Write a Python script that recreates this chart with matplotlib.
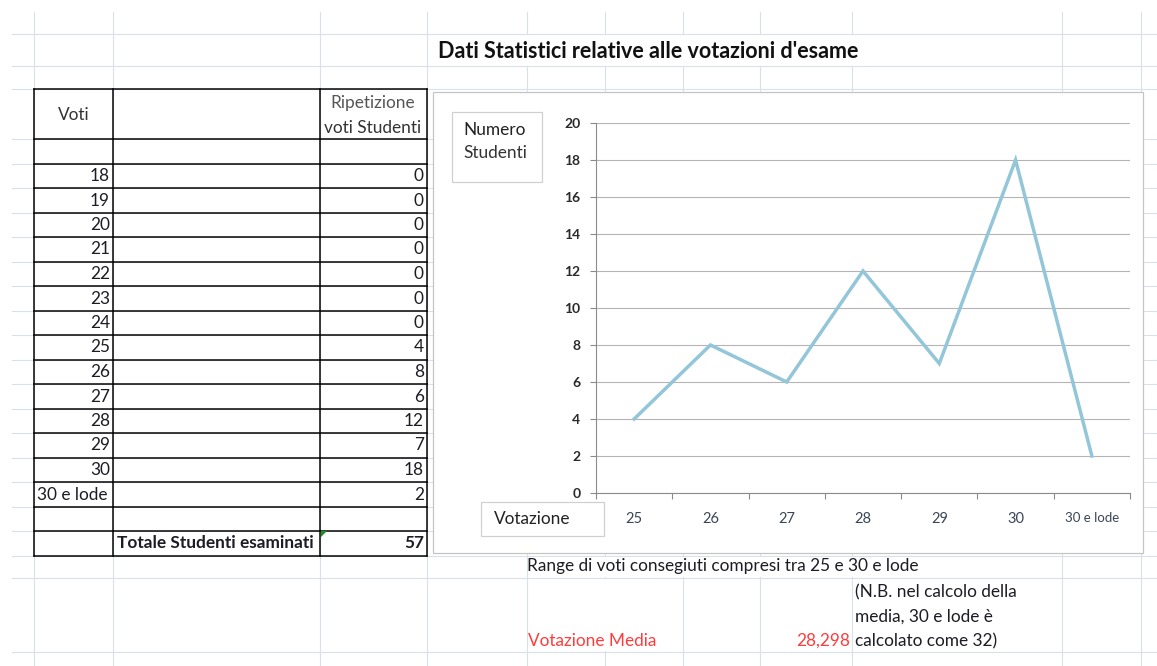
import matplotlib
matplotlib.use('Agg')
import matplotlib.pyplot as plt
from matplotlib.patches import Rectangle, Polygon
import numpy as np

plt.rcParams['font.family'] = ['Lato', 'DejaVu Sans']

# ---------------- data ----------------
voti = ['18', '19', '20', '21', '22', '23', '24', '25', '26', '27', '28', '29', '30', '30 e lode']
conteggi = [0, 0, 0, 0, 0, 0, 0, 4, 8, 6, 12, 7, 18, 2]
valore_numerico = [18, 19, 20, 21, 22, 23, 24, 25, 26, 27, 28, 29, 30, 32]

chart_categorie = ['25', '26', '27', '28', '29', '30', '30 e lode']
chart_valori = [4, 8, 6, 12, 7, 18, 2]
y_ticks = [0, 2, 4, 6, 8, 10, 12, 14, 16, 18, 20]

titolo = "Dati Statistici relative alle votazioni d'esame"
testo_range = "Range di voti consegiuti compresi tra 25 e 30 e lode"
nota = ["(N.B. nel calcolo della", "media, 30 e lode è", "calcolato come 32)"]

totale = sum(conteggi)
media = sum(v * c for v, c in zip(valore_numerico, conteggi)) / totale
media_txt = f"{media:.3f}".replace('.', ',')

# ---------------- figure ----------------
W, H = 1157, 666
fig = plt.figure(figsize=(W / 100, H / 100), dpi=100)
bg = fig.add_axes([0, 0, 1, 1])
bg.set_xlim(0, W)
bg.set_ylim(H, 0)
bg.axis('off')

GRID = '#d8e0e9'
PX = 0.72  # 1 px in points

row_tops = [34, 66, 89] + [139 + 24.5 * i for i in range(18)] + [578, 652]
cols = [34, 113, 320, 427, 527, 605, 683, 760, 852, 1062, 1141]

for y in row_tops:
    bg.plot([12, W], [y, y], color=GRID, lw=1.1 * PX, zorder=1)
for x in cols:
    bg.plot([x, x], [12, H], color=GRID, lw=1.1 * PX, zorder=1)

# overflowing text hides gridlines
for (x0, y0, x1, y1) in [(430, 35, 866, 65.5), (529, 556.5, 912, 577), (529, 579, 662, 651)]:
    bg.add_patch(Rectangle((x0, y0), x1 - x0, y1 - y0, facecolor='white', edgecolor='none', zorder=2))

# ---------------- table ----------------
TB = 1.5 * PX
tab_rows = [89] + [139 + 24.5 * i for i in range(18)]
tab_bottom = tab_rows[-1]
for y in tab_rows:
    bg.plot([34, 427], [y, y], color='black', lw=TB, zorder=5, solid_capstyle='projecting')
for x in [34, 113, 320, 427]:
    bg.plot([x, x], [89, tab_bottom], color='black', lw=TB, zorder=5, solid_capstyle='projecting')

FS = 12.4
TXT = '#1c1c24'
bg.text(74, 115, 'Voti', ha='center', va='center', fontsize=FS, color='#333333', zorder=6)
bg.text(373, 103, 'Ripetizione', ha='center', va='center', fontsize=FS, color='#555555', zorder=6)
bg.text(373, 128, 'voti Studenti', ha='center', va='center', fontsize=FS, color='#333333', zorder=6)

for i, (v, c) in enumerate(zip(voti, conteggi)):
    top = 139 + 24.5 * (i + 1)
    yc = top + 12.5
    if v.isdigit():
        bg.text(110, yc, v, ha='right', va='center', fontsize=FS, color=TXT, zorder=6)
    else:
        bg.text(37, yc, v, ha='left', va='center', fontsize=FS, color=TXT, zorder=6)
    bg.text(424, yc, str(c), ha='right', va='center', fontsize=FS, color=TXT, zorder=6)

ytot = 139 + 24.5 * 16 + 12.5
bg.text(117, ytot, 'Totale Studenti esaminati', ha='left', va='center', fontsize=FS,
        fontweight='bold', color=TXT, zorder=6)
bg.text(424, ytot, str(totale), ha='right', va='center', fontsize=FS, fontweight='bold',
        color=TXT, zorder=6)
bg.add_patch(Polygon([(321, 531), (327, 531), (321, 537)], closed=True, facecolor='#1f8f1f',
                     edgecolor='none', zorder=7))

# ---------------- title and notes ----------------
bg.text(648, 51, titolo, ha='center', va='center', fontsize=15.5, fontweight='bold',
        color='#111111', zorder=6)
bg.text(527, 566, testo_range, ha='left', va='center', fontsize=FS, color=TXT, zorder=6)
for k, line in enumerate(nota):
    bg.text(855, 592 + 24.5 * k, line, ha='left', va='center', fontsize=FS, color=TXT, zorder=6)
bg.text(528, 641, 'Votazione Media', ha='left', va='center', fontsize=FS, color='#ff3c3c', zorder=6)
bg.text(850, 641, media_txt, ha='right', va='center', fontsize=FS, color='#ff3c3c', zorder=6)

# ---------------- chart box ----------------
bg.add_patch(Rectangle((433, 92), 1143 - 433, 553 - 92, facecolor='white', edgecolor='#c4c4c4',
                       lw=1.2 * PX, zorder=3))
bg.add_patch(Rectangle((452, 112), 90, 70, facecolor='white', edgecolor='#cfcfcf', lw=1.2 * PX, zorder=4))
bg.text(463, 130, 'Numero', ha='left', va='center', fontsize=FS, color='#222222', zorder=6)
bg.text(463, 153, 'Studenti', ha='left', va='center', fontsize=FS, color='#333333', zorder=6)
bg.add_patch(Rectangle((481, 502), 123, 34, facecolor='white', edgecolor='#cfcfcf', lw=1.2 * PX, zorder=4))
bg.text(494, 519, 'Votazione', ha='left', va='center', fontsize=FS, color='#222222', zorder=6)

# ---------------- line chart ----------------
x0, x1, y0, y1 = 596, 1130, 123, 493
ax = fig.add_axes([x0 / W, 1 - y1 / H, (x1 - x0) / W, (y1 - y0) / H])
ax.set_zorder(10)
ax.patch.set_alpha(0)
xs = np.arange(len(chart_valori)) + 0.5
ax.plot(xs, chart_valori, color='#93c6d9', lw=2.5, solid_joinstyle='miter', zorder=5)
ax.set_xlim(0, len(chart_valori))
ax.set_ylim(0, 20)
ax.set_yticks(y_ticks)
ax.yaxis.grid(True, color='#b4b4b4', lw=1.1 * PX)
ax.set_axisbelow(True)
for s in ['top', 'right']:
    ax.spines[s].set_visible(False)
for s in ['left', 'bottom']:
    ax.spines[s].set_color('#8a8a8a')
    ax.spines[s].set_linewidth(1.1 * PX)
ax.tick_params(axis='y', direction='out', length=6 * PX, width=1.1 * PX, color='#8a8a8a',
               pad=7, labelsize=10, labelcolor='#2a2a2a')
for lab in ax.get_yticklabels():
    lab.set_fontweight('bold')
ax.set_xticks(np.arange(len(chart_valori) + 1))
ax.set_xticklabels([])
ax.tick_params(axis='x', which='major', direction='out', length=6 * PX, width=1.1 * PX, color='#8a8a8a')
ax.set_xticks(xs, minor=True)
ax.set_xticklabels(chart_categorie, minor=True)
ax.tick_params(axis='x', which='minor', length=0, pad=14, labelsize=10.5, labelcolor='#3a4656')
labs = ax.get_xticklabels(minor=True)
labs[-1].set_fontsize(9.5)

fig.savefig('out.png', dpi=100)
